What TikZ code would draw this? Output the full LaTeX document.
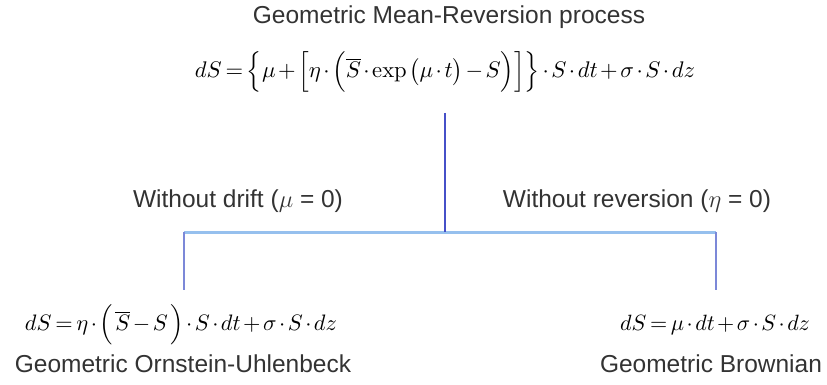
\RequirePackage{fix-cm}
\documentclass[tikz,border=0pt]{standalone}
\usepackage[no-math]{fontspec}
\setmainfont{Liberation Sans}
\usepackage{graphicx}
\definecolor{vline}{HTML}{4650C8}
\definecolor{hline}{HTML}{96C0EE}
\definecolor{leg}{HTML}{7C88D8}
\definecolor{txt}{HTML}{333333}
\newcommand{\tighteq}[2]{\resizebox{#1}{!}{\medmuskip=2mu\thickmuskip=3mu\thinmuskip=2mu$#2$}}
\tikzset{
  lbl/.style={font=\fontsize{24.5}{28}\selectfont, text=txt, inner sep=0pt},
  eqn/.style={inner sep=0pt, text=black},
}
\begin{document}
\begin{tikzpicture}[x=1pt,y=-1pt]
\useasboundingbox (0,0) rectangle (827,385);
\node[lbl] (title) at (449,17) {Geometric Mean-Reversion process};
\node[eqn] (main) at (445,72) {\tighteq{500pt}{dS=\Big\{\mu+\Big[\eta\cdot\Big(\overline{S}\cdot\exp\big(\mu\cdot t\big)-S\Big)\Big]\Big\}\cdot S\cdot dt+\sigma\cdot S\cdot dz}};
\coordinate (top) at (445,113);
\coordinate (mid) at (445,232);
\coordinate (lc) at (184,232);
\coordinate (rc) at (716,232);
\coordinate (lb) at (184,290);
\coordinate (rb) at (716,290);
\draw[hline, line width=3pt] (lc) -- (rc);
\draw[leg, line width=2.5pt] (lc) -- (lb);
\draw[leg, line width=2.5pt] (rc) -- (rb);
\draw[vline, line width=2.5pt] (top) -- (mid);
\node[lbl] (wd) at (238,201) {Without drift ($\mu$ = 0)};
\node[lbl] (wr) at (637,201) {Without reversion ($\eta$ = 0)};
\node[eqn] (leq) at (181,325) {\tighteq{312pt}{dS=\eta\cdot\Big(\,\overline{S}-S\,\Big)\cdot S\cdot dt+\sigma\cdot S\cdot dz}};
\node[eqn] (req) at (715,325) {\tighteq{190pt}{dS=\mu\cdot dt+\sigma\cdot S\cdot dz}};
\node[lbl] (gou) at (183,364) {Geometric Ornstein-Uhlenbeck};
\node[lbl] (gb) at (711,364) {Geometric Brownian};
\end{tikzpicture}
\end{document}
